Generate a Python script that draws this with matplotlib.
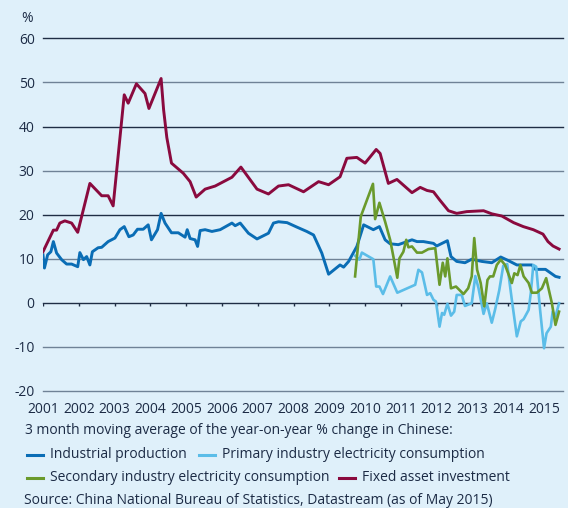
import matplotlib
matplotlib.use("Agg")
import matplotlib.pyplot as plt
from matplotlib.lines import Line2D

plt.rcParams['font.family'] = ['Open Sans', 'DejaVu Sans']

# ---------------- data (decimal year, % y/y, 3m moving average) -------------
ip_t = [2001.0, 2001.04, 2001.13, 2001.22, 2001.29, 2001.38, 2001.52, 2001.66, 2001.8, 2001.97,
        2002.03, 2002.13, 2002.22, 2002.31, 2002.38, 2002.54, 2002.64, 2002.82, 2003.01, 2003.15,
        2003.27, 2003.4, 2003.52, 2003.64, 2003.8, 2003.94, 2004.03, 2004.2, 2004.3, 2004.41,
        2004.59, 2004.78, 2004.97, 2005.03, 2005.11, 2005.25, 2005.32, 2005.39, 2005.53, 2005.72,
        2005.95, 2006.28, 2006.37, 2006.51, 2006.74, 2006.98, 2007.3, 2007.44, 2007.58, 2007.82,
        2008.09, 2008.37, 2008.56, 2008.79, 2008.98, 2009.3, 2009.4, 2009.54, 2009.77, 2009.96,
        2010.23, 2010.4, 2010.56, 2010.7, 2010.93, 2011.31, 2011.45, 2011.63, 2011.91, 2012.0,
        2012.3, 2012.4, 2012.56, 2012.79, 2012.98, 2013.26, 2013.54, 2013.79, 2014.0, 2014.24,
        2014.52, 2014.66, 2014.76, 2015.04, 2015.32, 2015.42]
ip_v = [10.9, 7.9, 10.9, 11.6, 13.9, 11.3, 9.8, 8.8, 8.8, 8.2,
        11.4, 9.8, 10.5, 8.6, 11.6, 12.5, 12.6, 13.9, 14.7, 16.6,
        17.3, 15.0, 15.4, 16.7, 16.7, 17.7, 14.3, 16.6, 20.3, 18.1,
        15.9, 15.9, 14.9, 16.6, 14.6, 14.3, 12.8, 16.4, 16.6, 16.2,
        16.6, 18.1, 17.5, 18.1, 15.8, 14.5, 15.8, 18.1, 18.4, 18.2,
        17.2, 16.2, 15.4, 11.3, 6.5, 8.6, 8.1, 9.4, 12.8, 17.7,
        16.6, 17.3, 14.3, 13.4, 13.2, 14.3, 13.9, 13.9, 13.5, 12.9,
        14.1, 10.5, 9.4, 9.1, 9.9, 9.4, 9.1, 10.4, 9.6, 8.6,
        8.6, 8.6, 7.6, 7.6, 6.0, 5.8]

pri_t = [2009.72, 2009.84, 2009.91, 2010.23, 2010.31, 2010.4, 2010.5, 2010.7, 2010.9, 2011.4,
         2011.49, 2011.59, 2011.73, 2011.82, 2011.91, 2011.98, 2012.08, 2012.15, 2012.21, 2012.3,
         2012.4, 2012.49, 2012.56, 2012.7, 2012.79, 2012.98, 2013.08, 2013.17, 2013.31, 2013.4,
         2013.54, 2013.63, 2013.75, 2013.86, 2013.97, 2014.1, 2014.24, 2014.35, 2014.43, 2014.57,
         2014.63, 2014.7, 2014.78, 2014.89, 2015.0, 2015.07, 2015.19, 2015.24, 2015.32, 2015.42]
pri_v = [10.7, 9.8, 11.4, 9.9, 3.7, 3.7, 2.0, 6.0, 2.3, 4.1,
         7.5, 6.9, 1.8, 2.2, 0.7, 0.3, -5.4, -2.3, -2.7, -0.2,
         -2.9, -2.0, 1.8, 1.8, -0.7, -0.1, 6.1, 3.3, -2.5, -0.1,
         -4.5, -1.6, 2.9, 8.4, 8.8, 0.7, -7.6, -4.2, -3.7, -1.6,
         2.2, 8.6, 8.2, -1.6, -10.3, -6.9, -5.4, -2.0, -3.1, -0.1]

sec_t = [2009.72, 2009.88, 2010.22, 2010.28, 2010.4, 2010.56, 2010.7, 2010.79, 2010.9, 2010.96,
         2011.07, 2011.15, 2011.21, 2011.31, 2011.45, 2011.59, 2011.77, 2011.96, 2012.08, 2012.17,
         2012.24, 2012.3, 2012.4, 2012.54, 2012.75, 2012.88, 2012.98, 2013.05, 2013.13, 2013.23,
         2013.33, 2013.42, 2013.49, 2013.58, 2013.68, 2013.79, 2013.91, 2014.1, 2014.17, 2014.26,
         2014.34, 2014.43, 2014.57, 2014.66, 2014.8, 2014.94, 2015.06, 2015.22, 2015.32, 2015.42]
sec_v = [6.0, 19.6, 27.0, 19.0, 22.7, 18.4, 14.3, 10.5, 5.7, 10.1,
         11.6, 14.3, 12.6, 12.8, 11.4, 11.4, 12.2, 12.4, 4.1, 9.1,
         6.0, 10.1, 3.3, 3.7, 2.0, 3.3, 6.0, 14.7, 7.5, 4.5,
         -0.8, 5.2, 6.0, 6.0, 8.6, 9.8, 8.6, 4.5, 6.7, 6.3,
         8.6, 6.0, 4.5, 2.3, 2.3, 3.3, 5.6, -0.1, -5.0, -2.0]

fai_t = [2001.0, 2001.29, 2001.38, 2001.47, 2001.61, 2001.8, 2001.97, 2002.31, 2002.64, 2002.82,
         2002.96, 2003.27, 2003.38, 2003.61, 2003.85, 2003.96, 2004.3, 2004.37, 2004.46, 2004.59,
         2004.92, 2005.11, 2005.28, 2005.53, 2005.81, 2006.28, 2006.53, 2006.98, 2007.3, 2007.58,
         2007.86, 2008.28, 2008.7, 2008.98, 2009.3, 2009.49, 2009.77, 2010.0, 2010.31, 2010.42,
         2010.65, 2010.89, 2011.31, 2011.54, 2011.73, 2011.91, 2012.08, 2012.33, 2012.56, 2012.84,
         2013.31, 2013.54, 2013.82, 2014.15, 2014.42, 2014.7, 2014.97, 2015.11, 2015.25, 2015.42]
fai_v = [11.6, 16.5, 16.5, 18.1, 18.6, 18.1, 16.0, 27.1, 24.3, 24.3,
         22.0, 47.2, 45.3, 49.7, 47.5, 44.1, 50.9, 43.8, 37.5, 31.7,
         29.4, 27.5, 24.0, 25.8, 26.5, 28.5, 30.8, 25.8, 24.7, 26.5,
         26.8, 25.2, 27.5, 26.8, 28.6, 32.8, 33.0, 31.7, 34.8, 33.9,
         27.1, 28.0, 25.0, 26.2, 25.5, 25.2, 23.4, 20.9, 20.3, 20.7,
         20.9, 20.2, 19.7, 18.2, 17.3, 16.6, 15.6, 13.9, 12.9, 12.2]

years = list(range(2001, 2016))
y_ticks = [60, 50, 40, 30, 20, 10, 0, -10, -20]

labels = ["Industrial production", "Primary industry electricity consumption",
          "Secondary industry electricity consumption", "Fixed asset investment"]
colors = ["#0a6db5", "#5bbde8", "#6a9a2c", "#8a0a3e"]

# ---------------- figure ----------------
BG = "#dff0fa"
TXT = "#1c2b45"
W, H = 568, 508
fig = plt.figure(figsize=(W / 100, H / 100), dpi=100, facecolor=BG)
ax = fig.add_axes([43 / W, 1 - 391 / H, (563 - 43) / W, (391 - 38.4) / H])
ax.set_facecolor(BG)
ax.set_xlim(2001.0, 2015.53)
ax.set_ylim(-20, 60)

for v in y_ticks:
    c = "#1f2d44" if v in (60, 40, 20, 0) else "#6f8296"
    ax.axhline(v, color=c, lw=1.0, zorder=1, clip_on=False)

ax.vlines(years, -0.8, 0, color="#1f2d44", lw=1.0, zorder=1)

ax.plot(ip_t, ip_v, color=colors[0], lw=2.1, zorder=3, solid_joinstyle='round')
ax.plot(pri_t, pri_v, color=colors[1], lw=1.9, zorder=3, solid_joinstyle='round')
ax.plot(sec_t, sec_v, color=colors[2], lw=1.9, zorder=4, solid_joinstyle='round')
ax.plot(fai_t, fai_v, color=colors[3], lw=2.1, zorder=5, solid_joinstyle='round')

for s in ax.spines.values():
    s.set_visible(False)
ax.set_yticks(y_ticks)
ax.set_yticklabels([str(v) for v in y_ticks])
ax.set_xticks(years)
ax.set_xticklabels([str(y) for y in years])
ax.tick_params(axis='both', length=0, labelsize=10, labelcolor=TXT)
ax.tick_params(axis='y', pad=6)
ax.tick_params(axis='x', pad=8)

def fx(px):
    return px / W

def fy(py):
    return 1 - py / H

fig.text(fx(27), fy(18), "%", ha='center', va='center', fontsize=10, color=TXT)

fs = 10
fig.text(fx(25), fy(431), "3 month moving average of the year-on-year % change in Chinese:",
         ha='left', va='center', fontsize=fs, color=TXT)
legend_pos = [(27, 454.5), (199, 454.5), (27, 477.7), (339, 477.7)]
for (px, py), lab, col in zip(legend_pos, labels, colors):
    fig.add_artist(Line2D([fx(px), fx(px + 16)], [fy(py), fy(py)], color=col, lw=2.2,
                          transform=fig.transFigure))
    fig.text(fx(px + 23), fy(py), lab, ha='left', va='center', fontsize=fs, color=TXT)
fig.text(fx(24), fy(500.5), "Source: China National Bureau of Statistics, Datastream (as of May 2015)",
         ha='left', va='center', fontsize=fs, color=TXT)

fig.savefig("out.png", dpi=100, facecolor=BG)
